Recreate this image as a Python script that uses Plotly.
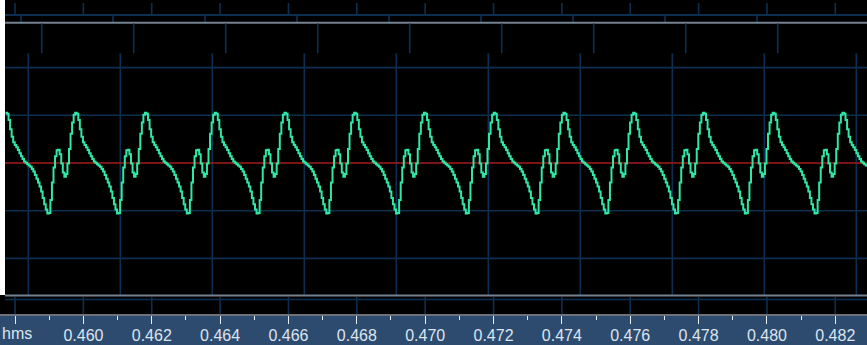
import math
import plotly.graph_objects as go

# ---- waveform data -------------------------------------------------------
SAMPLE_RATE = 22050          # Hz
START_TIME = 0.457719        # time of first drawn sample (s)
N_SAMPLES = 557

# one period of the tone (45 samples, ~490 Hz), amplitude in % of full scale,
# starting at the crest
cycle = [52.6, 51.6, 45.1, 35.5, 27.5, 21.8, 18.8, 16.5, 13.5, 10.2, 7.0, 4.1,
         1.6, 0.2, -1.3, -2.5, -3.9, -6.3, -8.8, -12.5, -16.6, -20.5, -24.6,
         -30.0, -36.6, -43.2, -48.7, -52.9, -52.4, -38.8, -20.4, -4.8, 7.0,
         13.3, 13.9, 9.3, -0.5, -10.0, -14.5, -11.5, -0.5, 14.8, 30.7, 42.5,
         50.7]

# ruler (seconds)
ruler_ticks = [0.458, 0.460, 0.462, 0.464, 0.466, 0.468, 0.470, 0.472,
               0.474, 0.476, 0.478, 0.480, 0.482]
ruler_labels = ["", "0.460", "0.462", "0.464", "0.466", "0.468", "0.470",
                "0.472", "0.474", "0.476", "0.478", "0.480", "0.482"]
ruler_minor = [0.459, 0.461, 0.463, 0.465, 0.467, 0.469, 0.471, 0.473,
               0.475, 0.477, 0.479, 0.481]

# amplitude grid (%)
amp_grid = [100, 50, -50, -100]

# ---- build sample series --------------------------------------------------
reps = math.ceil(N_SAMPLES / len(cycle))
values = (cycle * reps)[:N_SAMPLES]
times = [START_TIME + k / SAMPLE_RATE for k in range(N_SAMPLES)]

# ---- geometry / style -------------------------------------------------------
W, H = 867, 345
PLOT_H = 314
X_RANGE = [0.4575598, 0.4829277]
Y_RANGE = [-158.28, 170.86]
PX_PER_S = W / (X_RANGE[1] - X_RANGE[0])

GRID = "#0c2f50"
GRAY = "#74818f"
WAVE = "#30e8a6"
RED = "#a41c1c"
RULER_BG = "#2c4b6e"
LABEL = "#dde4ee"


def py(p):
    """pixel row inside the plot area -> paper fraction"""
    return 1 - p / PLOT_H


def px(p):
    return p / W


def t_at(p):
    return X_RANGE[0] + p / PX_PER_S


grid_step = 92 / PX_PER_S
main_cols = [t_at(28.3) + k * grid_step for k in range(10)]
upper_cols = [t_at(41.7) + k * grid_step for k in range(9)]
short_cols = [t_at(21.0) + k * grid_step for k in range(9)]

shapes = []


def vline(x, y0, y1, color=GRID, width=1.6):
    shapes.append(dict(type="line", xref="x", yref="paper", x0=x, x1=x,
                       y0=py(y0), y1=py(y1), layer="below",
                       line=dict(color=color, width=width)))


def hline_px(y, color=GRID, width=1.6):
    shapes.append(dict(type="line", xref="paper", yref="paper", x0=px(5), x1=1,
                       y0=py(y), y1=py(y), layer="below",
                       line=dict(color=color, width=width)))


# ruler background
shapes.append(dict(type="rect", xref="paper", yref="paper", x0=0, x1=1,
                   y0=py(H), y1=py(PLOT_H), layer="below",
                   fillcolor=RULER_BG, line=dict(width=0)))
# left white border
shapes.append(dict(type="rect", xref="paper", yref="paper", x0=0, x1=px(5),
                   y0=py(295), y1=1, layer="below",
                   fillcolor="#ffffff", line=dict(width=0)))

# top strip
for t in ruler_ticks:
    vline(t, 3, 15)
hline_px(15, width=2)
for t in short_cols:
    vline(t, 15, 22)
hline_px(22.8, color=GRAY, width=2)
for t in upper_cols:
    vline(t, 23.5, 53.3)

# main grid
for t in main_cols:
    vline(t, 53.3, 295)
for a in amp_grid:
    shapes.append(dict(type="line", xref="paper", yref="y", x0=px(5), x1=1,
                       y0=a, y1=a, layer="below",
                       line=dict(color=GRID, width=1.6)))
shapes.append(dict(type="line", xref="paper", yref="y", x0=px(5), x1=1,
                   y0=0, y1=0, layer="below", line=dict(color=RED, width=1.5)))

# lower strip
hline_px(295.5, color=GRAY, width=2)
hline_px(299.5, width=1.5)
for t in ruler_ticks:
    vline(t, 297, 314)

fig = go.Figure(go.Scatter(
    x=times, y=values, mode="lines",
    line=dict(color=WAVE, width=2, shape="hv"),
    hoverinfo="skip", showlegend=False))

fig.update_layout(
    width=W, height=H,
    margin=dict(l=0, r=0, t=0, b=H - PLOT_H, pad=0),
    paper_bgcolor="#000000", plot_bgcolor="#000000",
    shapes=shapes,
    xaxis=dict(range=X_RANGE, showgrid=False, zeroline=False,
               tickmode="array", tickvals=ruler_ticks, ticktext=ruler_labels,
               ticks="outside", ticklen=8, tickwidth=1, tickcolor="#e8eef4",
               ticklabelstandoff=-2,
               tickfont=dict(family="Liberation Sans, Arial", size=16, color=LABEL),
               showline=True, linecolor="#6c737a", linewidth=2,
               minor=dict(tickmode="array", tickvals=ruler_minor, ticks="outside",
                          ticklen=4, tickwidth=1, tickcolor="#e8eef4",
                          showgrid=False),
               fixedrange=True),
    yaxis=dict(range=Y_RANGE, visible=False, fixedrange=True),
    annotations=[dict(text="hms", xref="paper", yref="paper", x=0, y=py(333),
                      xanchor="left", yanchor="middle", showarrow=False,
                      font=dict(family="Liberation Sans Narrow, Liberation Sans, Arial",
                                size=16, color=LABEL))],
)

fig.write_html("out.html")
